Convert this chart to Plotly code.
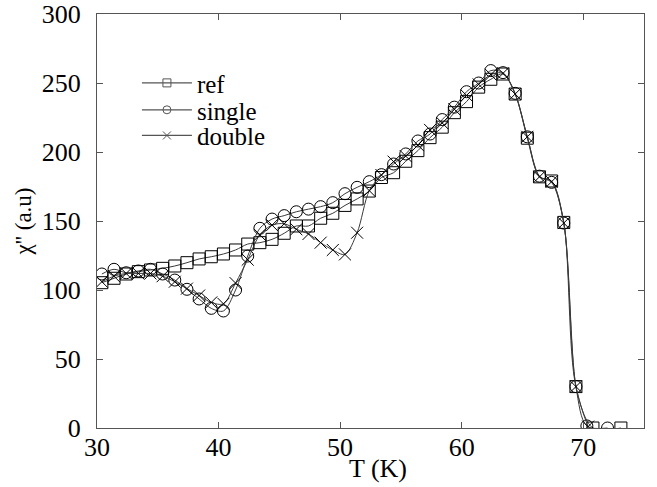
import plotly.graph_objects as go

# ---- data ----
T_ref = [30.4, 31.4, 32.4, 33.4, 34.4, 35.4, 36.4, 37.4, 38.4, 39.4, 40.4, 41.4, 42.4, 43.4,
         44.4, 45.4, 46.4, 47.4, 48.4, 49.4, 50.4, 51.4, 52.4, 53.4, 54.4, 55.4, 56.4, 57.4,
         58.4, 59.4, 60.4, 61.4, 62.4, 63.4, 64.4, 65.4, 66.4, 67.4, 68.4, 69.4, 70.8, 73.1]
chi_ref = [105.3, 108.5, 111.6, 113.3, 114.5, 115.7, 117.4, 119.8, 122.5, 124.1, 126.1, 129.0,
           133.3, 134.3, 136.7, 141.1, 146.4, 146.4, 152.0, 155.6, 161.3, 166.0, 171.7, 181.5,
           185.0, 193.3, 201.0, 210.4, 218.0, 228.5, 236.5, 247.0, 252.7, 256.5, 242.0, 210.0,
           182.0, 179.0, 149.0, 30.0, 0.0, 0.0]

T_single = [30.4, 31.4, 32.4, 33.4, 34.4, 35.4, 36.4, 37.4, 38.4, 39.4, 40.4, 41.4, 42.4, 43.4,
            44.4, 45.4, 46.4, 47.4, 48.4, 49.4, 50.4, 51.4, 52.4, 53.4, 54.4, 55.4, 56.4, 57.4,
            58.4, 59.4, 60.4, 61.4, 62.4, 63.4, 64.4, 65.4, 66.4, 67.4, 68.4, 69.4, 70.3, 72.0]
chi_single = [111.6, 115.0, 112.5, 113.8, 115.0, 111.6, 107.2, 100.5, 93.5, 86.7, 84.8, 100.0,
              124.6, 144.7, 151.4, 153.9, 156.7, 158.6, 160.4, 163.3, 169.8, 174.4, 178.5, 183.6,
              191.3, 198.6, 208.0, 213.0, 223.5, 232.5, 243.7, 250.0, 259.0, 257.5, 242.5, 211.0,
              182.5, 178.0, 148.5, 30.0, 1.5, 0.0]

T_double = [30.4, 31.4, 32.4, 33.4, 34.4, 35.4, 36.4, 37.4, 38.4, 39.4, 40.4, 41.4, 42.4, 43.4,
            44.4, 45.4, 46.4, 47.4, 48.4, 49.4, 50.4, 51.4, 52.4, 53.4, 54.4, 55.4, 56.4, 57.4,
            58.4, 59.4, 60.4, 61.4, 62.4, 63.4, 64.4, 65.4, 66.4, 67.4, 68.4, 69.4, 70.4]
chi_double = [106.0, 110.0, 112.0, 112.0, 112.0, 110.0, 106.0, 101.0, 96.0, 91.0, 90.0, 105.0,
              122.0, 140.0, 147.0, 148.0, 144.0, 140.6, 134.3, 129.0, 125.8, 141.5, 172.0, 183.3,
              193.0, 197.0, 205.0, 216.0, 221.0, 231.0, 241.0, 249.0, 256.0, 257.0, 242.0, 211.0,
              182.0, 178.5, 148.5, 30.0, 1.0]

x_ticks = [30, 40, 50, 60, 70]
y_ticks = [0, 50, 100, 150, 200, 250, 300]

FONT = "Liberation Serif"
LINE_COL = "#3a3a3a"
KEY_COL = "#555555"

fig = go.Figure()

series = [
    ("ref", T_ref, chi_ref, "square-open", "legend"),
    ("single", T_single, chi_single, "circle-open", "legend2"),
    ("double", T_double, chi_double, "x-thin-open", "legend3"),
]

for name, xs, ys, sym, _ in series:
    fig.add_trace(go.Scatter(
        x=xs, y=ys, mode="lines+markers", name=name, showlegend=False,
        line=dict(color=LINE_COL, width=1, shape="spline", smoothing=0.9),
        marker=dict(symbol=sym, size=12, color="black",
                    line=dict(color="black", width=1)),
    ))

# key entries (smaller symbols, like the reference key); one legend per row
for name, xs, ys, sym, leg in series:
    fig.add_trace(go.Scatter(
        x=[None], y=[None], mode="lines+markers", name=name, showlegend=True,
        legend=leg,
        line=dict(color=KEY_COL, width=1.2),
        marker=dict(symbol=sym, size=8, color=KEY_COL,
                    line=dict(color=KEY_COL, width=1)),
    ))

axis_common = dict(
    showline=True, linecolor="#555555", linewidth=1.2, mirror="allticks",
    ticks="inside", ticklen=6, tickwidth=1, tickcolor="#555555",
    showgrid=False, zeroline=False, automargin=False,
    ticklabeloverflow="allow",
    tickfont=dict(family=FONT, size=26, color="black"),
)

legend_common = dict(
    x=0.073, xanchor="left", yanchor="middle",
    bgcolor="rgba(0,0,0,0)", borderwidth=0,
    font=dict(family=FONT, size=25, color="black"),
    itemwidth=50,
)

fig.update_layout(
    width=657, height=487,
    margin=dict(l=97, r=13, t=14, b=59),
    paper_bgcolor="white", plot_bgcolor="white",
    font=dict(family=FONT, size=26, color="black"),
    xaxis=dict(range=[30, 75], tickvals=x_ticks, ticktext=[str(v) for v in x_ticks],
               ticklabelstandoff=-4,
               **axis_common),
    yaxis=dict(range=[0, 300], tickvals=y_ticks, ticktext=[str(v) for v in y_ticks],
               ticklabelstandoff=10,
               title=dict(text="χ'' (a.u)", font=dict(family=FONT, size=23), standoff=3),
               **axis_common),
    legend=dict(y=0.833, **legend_common),
    legend2=dict(y=0.768, **legend_common),
    legend3=dict(y=0.706, **legend_common),
    annotations=[dict(text="T (K)", xref="paper", yref="paper", x=0.514, y=-0.099,
                      xanchor="center", yanchor="middle", showarrow=False,
                      font=dict(family=FONT, size=26, color="black"))],
)

# remove the browser's default 8 px page margin so the figure fills the window
fig.write_html("out.html",
               config={"displayModeBar": False},
               post_script="document.body.style.margin='0';document.body.style.overflow='hidden';")
